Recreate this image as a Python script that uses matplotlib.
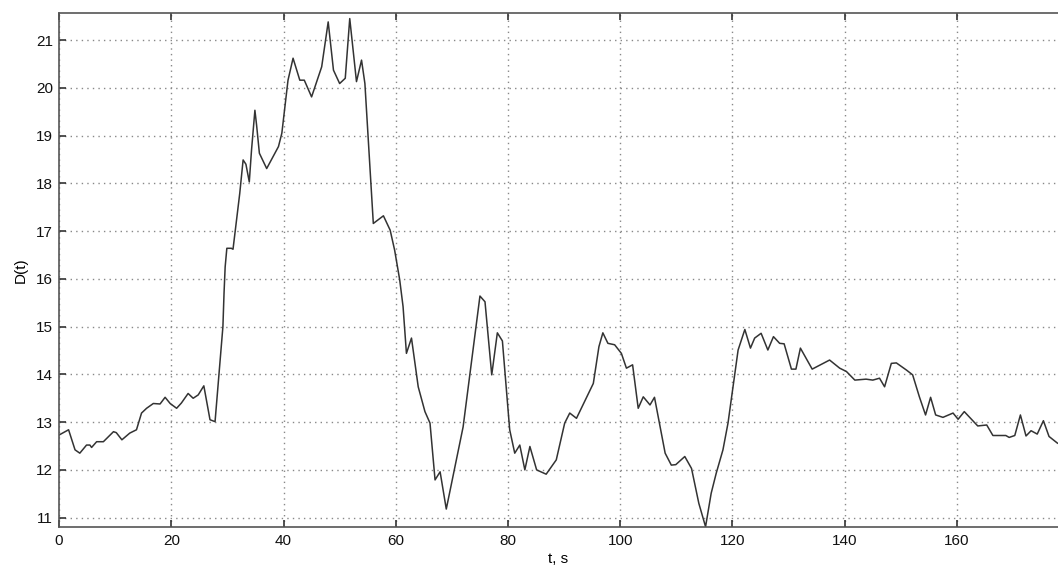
import numpy as np
import matplotlib
matplotlib.use("Agg")
import matplotlib.pyplot as plt

# values
t = [0, 1.7, 2.85, 3.7, 4.9, 5.5, 5.8, 6.7, 7.9, 9.7, 10.2, 11.2, 12.6, 13.8,
     14.7, 15.6, 16.8, 18.0, 18.9, 19.8, 20.95, 21.8, 23.0, 23.9, 24.8, 25.8,
     26.9, 27.8, 29.2, 29.4, 29.6, 29.9, 30.7, 31.0, 32.2, 32.8, 33.3, 33.9,
     34.3, 34.9, 35.2, 35.7, 37.0, 39.1, 39.7, 40.8, 41.7, 42.9, 43.7, 45.0,
     46.8, 47.96, 48.9, 50.0, 51.0, 51.8, 53.0, 53.9, 54.5, 56.0, 57.8, 59.0,
     59.8, 60.7, 61.3, 61.9, 62.8, 64.0, 65.2, 66.1, 67.0, 67.9, 69.0, 72.0,
     75.0, 75.9, 77.1, 78.1, 79.0, 80.3, 81.2, 82.1, 83.0, 83.9, 85.1, 86.8,
     88.6, 90.1, 91.0, 92.2, 95.2, 96.2, 96.9, 97.8, 99.0, 100.2, 101.1, 102.2,
     103.2, 104.1, 105.3, 106.1, 108.0, 109.1, 109.9, 111.5, 112.7, 114.0,
     115.2, 116.2, 117.1, 118.3, 119.2, 120.1, 121.0, 122.2, 123.2, 123.95,
     125.1, 126.3, 127.3, 128.4, 129.2, 130.5, 131.3, 132.1, 134.2, 137.3,
     139.1, 140.3, 141.8, 143.8, 145.0, 146.2, 147.1, 148.3, 149.2, 151.0,
     152.1, 153.3, 154.4, 155.3, 156.2, 157.5, 159.3, 160.2, 161.3, 163.7,
     165.3, 166.4, 168.7, 169.3, 170.3, 171.3, 172.3, 173.2, 174.3, 175.4,
     176.4, 177.9]
d = [12.73, 12.84, 12.42, 12.35, 12.52, 12.52, 12.47, 12.59, 12.59, 12.80,
     12.78, 12.63, 12.77, 12.84, 13.19, 13.29, 13.39, 13.38, 13.52, 13.39,
     13.29, 13.40, 13.60, 13.50, 13.57, 13.76, 13.05, 13.01, 15.0, 15.7,
     16.25, 16.64, 16.64, 16.62, 17.79, 18.49, 18.4, 18.03, 18.70, 19.53,
     19.22, 18.63, 18.31, 18.77, 19.05, 20.16, 20.62, 20.16, 20.16, 19.81,
     20.44, 21.38, 20.37, 20.09, 20.2, 21.45, 20.13, 20.58, 20.09, 17.16,
     17.32, 17.02, 16.6, 15.98, 15.42, 14.44, 14.76, 13.74, 13.22, 12.98,
     11.79, 11.96, 11.18, 12.9, 15.64, 15.52, 13.99, 14.87, 14.7, 12.84,
     12.35, 12.52, 12.0, 12.49, 12.0, 11.91, 12.21, 12.98, 13.19, 13.08,
     13.81, 14.58, 14.87, 14.65, 14.62, 14.44, 14.13, 14.2, 13.29, 13.53,
     13.36, 13.52, 12.35, 12.10, 12.11, 12.28, 12.03, 11.30, 10.81, 11.51,
     11.93, 12.42, 12.98, 13.74, 14.51, 14.94, 14.55, 14.76, 14.86, 14.51,
     14.79, 14.65, 14.64, 14.11, 14.11, 14.55, 14.11, 14.30, 14.13, 14.06,
     13.88, 13.90, 13.88, 13.92, 13.74, 14.23, 14.24, 14.09, 13.99, 13.53,
     13.15, 13.52, 13.15, 13.10, 13.19, 13.06, 13.22, 12.92, 12.94, 12.72,
     12.72, 12.68, 12.72, 13.15, 12.71, 12.82, 12.75, 13.03, 12.70, 12.56]

x_ticks = [0, 20, 40, 60, 80, 100, 120, 140, 160]
y_ticks = [11, 12, 13, 14, 15, 16, 17, 18, 19, 20, 21]

plt.rcParams["font.family"] = ["Liberation Sans", "DejaVu Sans"]

fig = plt.figure(figsize=(10.58, 5.69), dpi=100)
ax = fig.add_axes([0.0558, 0.0743, 0.9442, 0.9023])

ax.plot(t, d, color="#333333", linewidth=1.1)

ax.set_xlim(0, 178)
ax.set_ylim(10.81, 21.56)
ax.set_xticks(x_ticks)
ax.set_yticks(y_ticks)
ax.tick_params(direction="in", top=True, length=5, width=1.2, labelsize=11,
               colors="#333333", labelcolor="#111111")
ax.tick_params(axis="x", pad=5)
ax.tick_params(axis="y", pad=4.5)
ax.grid(True, linestyle=(0, (1, 3)), color="#888888", linewidth=1.0)
ax.spines["right"].set_visible(False)
for s in ["left", "top", "bottom"]:
    ax.spines[s].set_color("#555555")
    ax.spines[s].set_linewidth(1.2)

ax.set_xlabel("t, s", fontsize=11, labelpad=3)
ax.set_ylabel("D(t)", fontsize=11, labelpad=6)

fig.savefig("out.png", dpi=100)
